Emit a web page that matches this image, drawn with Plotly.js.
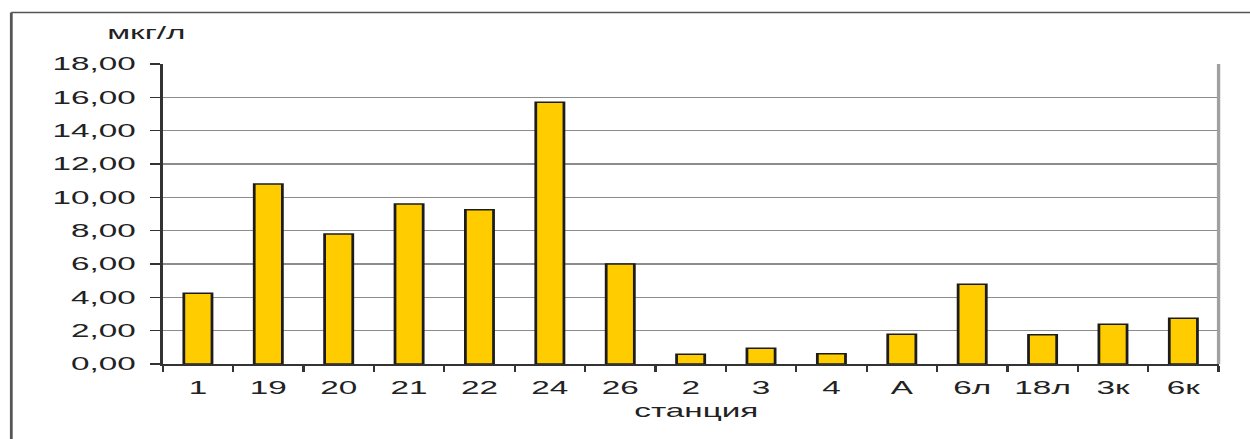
<!DOCTYPE html>
<html>
<head>
<meta charset="utf-8">
<script src="https://cdn.plot.ly/plotly-3.0.1.min.js"></script>
<style>
  html, body { margin: 0; padding: 0; background: #fff; overflow: hidden; }
  #wrap { width: 1250px; height: 439px; overflow: hidden; position: relative; }
  #chart { width: 676px; height: 439px; transform-origin: 0 0; }
</style>
</head>
<body>
<div id="wrap"><div id="chart"></div></div>
<script>
// Stations and measured concentrations (мкг/л)
const stations = ['1', '19', '20', '21', '22', '24', '26', '2', '3', '4', 'А', '6л', '18л', '3к', '6к'];
const values = [4.25, 10.8, 7.8, 9.6, 9.25, 15.7, 6.0, 0.58, 0.95, 0.62, 1.78, 4.78, 1.76, 2.38, 2.74];
const yTickVals = [0, 2, 4, 6, 8, 10, 12, 14, 16, 18];
const unitLabel = 'мкг/л';
const xAxisLabel = 'станция';

// The chart is laid out on a narrow canvas and widened horizontally.
const W = 676, H = 439;
const stretch = 1250 / W;
document.getElementById('chart').style.transform = 'scaleX(' + stretch + ')';

const M = { l: 87.6, r: 17.3, t: 64, b: 75 };
const plotW = W - M.l - M.r, plotH = H - M.t - M.b;
const px = x => (x - M.l) / plotW;
const py = y => (H - M.b - y) / plotH;

const font = { family: '"Liberation Sans", Arial, sans-serif', size: 18, color: '#222' };

const trace = {
  type: 'bar',
  x: stations,
  y: values,
  marker: { color: '#ffcc00', line: { color: '#1c1c1c', width: 1.5 } },
  hoverinfo: 'x+y'
};

const layout = {
  width: W, height: H,
  margin: M,
  paper_bgcolor: '#fff', plot_bgcolor: '#fff',
  separators: ', ',
  font: font,
  showlegend: false,
  bargap: 0.6,
  xaxis: {
    type: 'category',
    showline: true, linecolor: '#333', linewidth: 1.5,
    ticks: 'outside', tickson: 'boundaries', ticklen: 6, tickwidth: 1.2, tickcolor: '#333',
    showgrid: false, zeroline: false, tickangle: 0,
    tickfont: font, fixedrange: true,
    ticklabelstandoff: 7
  },
  yaxis: {
    range: [0, 18],
    tickvals: yTickVals, tickformat: '.2f',
    showline: true, linecolor: '#333', linewidth: 1.6,
    ticks: 'outside', ticklen: 5.4, tickwidth: 1.2, tickcolor: '#333',
    showgrid: true, gridcolor: '#8c8c8c', gridwidth: 1.4,
    zeroline: false, tickfont: font, fixedrange: true,
    ticklabelstandoff: 4
  },
  shapes: [
    // right border of the plot area
    { type: 'line', xref: 'paper', yref: 'paper', x0: 1, x1: 1, y0: 0, y1: 1,
      line: { color: '#a0a0a0', width: 1.8 } },
    // outer chart frame
    { type: 'line', xref: 'paper', yref: 'paper', x0: px(5.7), x1: px(5.7), y0: py(12.5), y1: py(460),
      line: { color: '#555', width: 1.5 } },
    { type: 'line', xref: 'paper', yref: 'paper', x0: px(5.7), x1: px(700), y0: py(12.5), y1: py(12.5),
      line: { color: '#555', width: 1.5 } }
  ],
  annotations: [
    { text: unitLabel, xref: 'paper', yref: 'paper', x: px(145.5 / stretch), y: py(33),
      xanchor: 'center', yanchor: 'middle', showarrow: false, font: font },
    { text: xAxisLabel, xref: 'paper', yref: 'paper', x: px(695 / stretch), y: py(411),
      xanchor: 'center', yanchor: 'middle', showarrow: false, font: font }
  ]
};

Plotly.newPlot('chart', [trace], layout, { displayModeBar: false, staticPlot: true });
</script>
</body>
</html>
